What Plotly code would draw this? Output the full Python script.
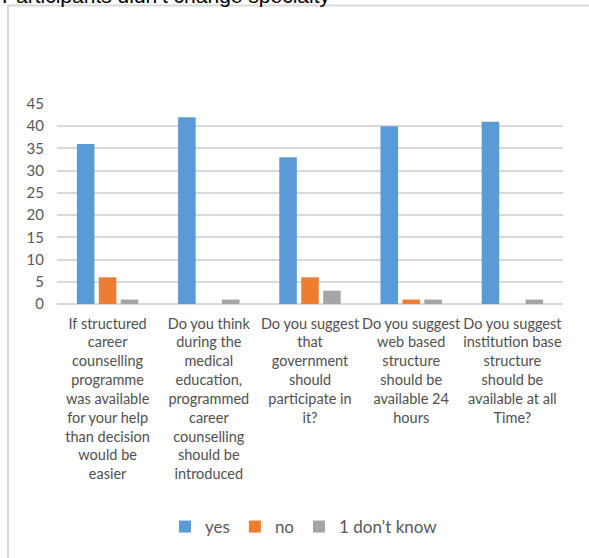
import plotly.graph_objects as go

# Survey questions (x categories), wrapped for the axis labels
questions = [
    "If structured<br>career<br>counselling<br>programme<br>was available<br>for your help<br>than decision<br>would be<br>easier",
    "Do you think<br>during the<br>medical<br>education,<br>programmed<br>career<br>counselling<br>should be<br>introduced",
    "Do you suggest<br>that<br>government<br>should<br>participate in<br>it?",
    "Do you suggest<br>web based<br>structure<br>should be<br>available 24<br>hours",
    "Do you suggest<br>institution base<br>structure<br>should be<br>available at all<br>Time?",
]

yes_counts = [36, 42, 33, 40, 41]
no_counts = [6, 0, 6, 1, 0]
dont_know_counts = [1, 1, 3, 1, 1]

y_ticks = [0, 5, 10, 15, 20, 25, 30, 35, 40, 45]

series = [
    ("yes", yes_counts, "#5B9BD5"),
    ("no", no_counts, "#ED7D31"),
    ("1 don’t know", dont_know_counts, "#A5A5A5"),
]

fig = go.Figure()
for name, vals, color in series:
    fig.add_trace(go.Bar(
        x=questions, y=vals, name=name,
        marker=dict(color=color, line=dict(width=0)),
    ))

# plot area geometry in pixels
W, H = 589, 558
L, R, T, B = 57, 26, 104, 254
pw, ph = W - L - R, H - T - B


def px(xp):
    return (xp - L) / pw


def py(yp):
    return (H - B - yp) / ph


fig.update_layout(
    width=W, height=H,
    margin=dict(l=L, r=R, t=T, b=B),
    paper_bgcolor="white",
    plot_bgcolor="white",
    barmode="group",
    bargap=0.35,
    bargroupgap=0.2,
    font=dict(family="Lato, Carlito, Calibri, sans-serif", size=14, color="#595959"),
    showlegend=True,
    legend=dict(
        orientation="h", x=px(304), xanchor="center", y=py(527), yanchor="middle",
        font=dict(size=17, color="#595959"), itemwidth=30, tracegroupgap=0,
    ),
    xaxis=dict(
        showgrid=False, showline=False, ticks="",
        tickfont=dict(size=14.5, color="#505050"), tickangle=0,
        ticklabelstandoff=9,
    ),
    yaxis=dict(
        range=[0, 45], tickvals=y_ticks, showline=False, ticks="",
        showgrid=True, gridcolor="#D9D9D9", gridwidth=1.5,
        zeroline=True, zerolinecolor="#D9D9D9", zerolinewidth=1.5,
        tickfont=dict(size=15, color="#595959"),
        ticklabelstandoff=12,
    ),
    shapes=[
        # chart frame: top and left edges
        dict(type="line", xref="paper", yref="paper",
             x0=px(8), x1=px(589), y0=py(5.5), y1=py(5.5),
             line=dict(color="#D9D9D9", width=2)),
        dict(type="line", xref="paper", yref="paper",
             x0=px(8), x1=px(8), y0=py(5.5), y1=py(560),
             line=dict(color="#D9D9D9", width=2)),
    ],
    annotations=[
        dict(text="Participants didn’t change specialty", xref="paper", yref="paper",
             x=px(0), xanchor="left", y=py(9), yanchor="bottom",
             showarrow=False, font=dict(family="Liberation Sans, Arial", size=21, color="#000000")),
    ],
)

fig.write_html("out.html")
